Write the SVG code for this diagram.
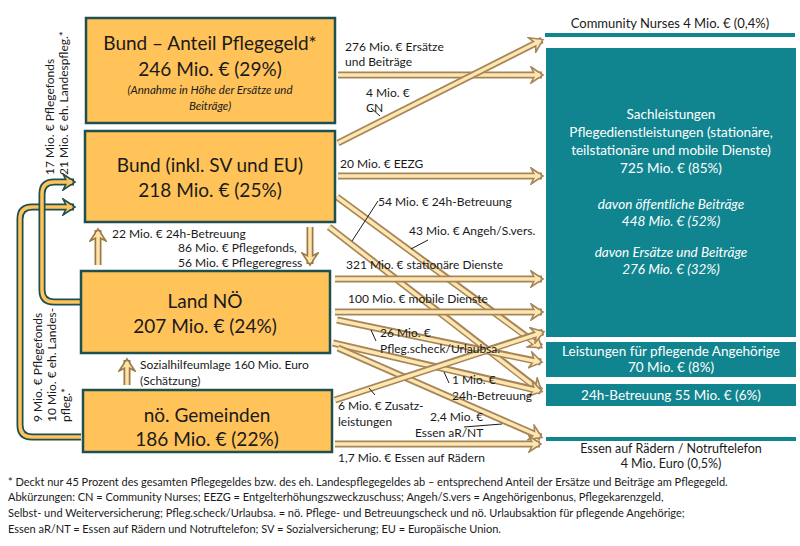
<svg xmlns="http://www.w3.org/2000/svg" width="800" height="546" viewBox="0 0 800 546">
<style>
text{font-family:Lato,"Noto Sans",sans-serif;fill:#1a1a1a}
.box{fill:#FFC35A;stroke:#1F4F4F;stroke-width:2.5}
.tb{fill:#11858F}
.big{font-size:19px;text-anchor:middle}
.lb{font-size:12px}
.w{fill:#fff;font-size:13.5px;text-anchor:middle}
.ao{fill:none;stroke:#9C7A48;stroke-width:7}
.ai{fill:none;stroke:#FFE3A8;stroke-width:3.5}
.lo{fill:none;stroke:#1F4F4F;stroke-width:7}
.li{fill:none;stroke:#FFC35A;stroke-width:3.5}
.ld{stroke:#1a1a1a;stroke-width:1;fill:none}
.fn{font-size:11px}
</style>
<defs>
<marker id="ah" markerUnits="userSpaceOnUse" markerWidth="16" markerHeight="18" refX="12" refY="9" orient="auto">
<path d="M1,1 L13,9 L1,17 L5,9 Z" fill="#FFE3A8" stroke="#9C7A48" stroke-width="1.6"/>
</marker>
<marker id="lh" markerUnits="userSpaceOnUse" markerWidth="16" markerHeight="18" refX="12" refY="9" orient="auto">
<path d="M1,1 L13,9 L1,17 L5,9 Z" fill="#FFC35A" stroke="#1F4F4F" stroke-width="1.6"/>
</marker>
</defs>

<g id="connectors">
<path class="lo" d="M81,437 H32 Q20,437 20,425 V219 Q20,207 32,207 H74" marker-end="url(#lh)"/>
<path class="li" d="M81,437 H32 Q20,437 20,425 V219 Q20,207 32,207 H72"/>
<path class="lo" d="M81,302 H54 Q42,302 42,290 V194 Q42,182 54,182 H74" marker-end="url(#lh)"/>
<path class="li" d="M81,302 H54 Q42,302 42,290 V194 Q42,182 54,182 H72"/>
<path class="ao" d="M98,265 V230" marker-end="url(#ah)"/><path class="ai" d="M98,265 V232"/>
<path class="ao" d="M310,227 V264" marker-end="url(#ah)"/><path class="ai" d="M310,227 V262"/>
<path class="ao" d="M127,385 V360" marker-end="url(#ah)"/><path class="ai" d="M127,385 V362"/>
<g opacity="0.9">
<path class="ao" d="M338,75 H542" marker-end="url(#ah)"/><path class="ai" d="M338,75 H540"/>
<path class="ao" d="M338,143 L542,40" marker-end="url(#ah)"/><path class="ai" d="M338,143 L540,41"/>
<path class="ao" d="M338,176 H542" marker-end="url(#ah)"/><path class="ai" d="M338,176 H540"/>
<path class="ao" d="M337,197 L541,347" marker-end="url(#ah)"/><path class="ai" d="M337,197 L539,346"/>
<path class="ao" d="M329,227 L541,391" marker-end="url(#ah)"/><path class="ai" d="M329,227 L539,390"/>
<path class="ao" d="M335,279 H542" marker-end="url(#ah)"/><path class="ai" d="M335,279 H540"/>
<path class="ao" d="M335,312 H542" marker-end="url(#ah)"/><path class="ai" d="M335,312 H540"/>
<path class="ao" d="M337,320 L541,362" marker-end="url(#ah)"/><path class="ai" d="M337,320 L539,362"/>
<path class="ao" d="M333,343 L541,391" marker-end="url(#ah)"/><path class="ai" d="M333,343 L539,391"/>
<path class="ao" d="M338,348 L541,437" marker-end="url(#ah)"/><path class="ai" d="M338,348 L539,436"/>
<path class="ao" d="M335,400 L543,332" marker-end="url(#ah)"/><path class="ai" d="M335,400 L541,333"/>
<path class="ao" d="M335,444 H540" marker-end="url(#ah)"/><path class="ai" d="M335,444 H538"/>
</g>
<path class="ld" d="M371,108 L380,116"/>
<path class="ld" d="M378,201 L352,241"/>
<path class="ld" d="M428,240 L411,249"/>
<path class="ld" d="M376,341 L371,330"/>
<path class="ld" d="M449,383 L444,372"/>
<path class="ld" d="M464,427 L502,424"/>
<path class="ld" d="M375,395 L369,388"/>
</g>

<g id="bund-pflegegeld">
<rect class="box" x="86" y="18" width="249" height="105"/>
<text class="big" x="210" y="50">Bund – Anteil Pflegegeld*</text>
<text class="big" x="210" y="76">246 Mio. € (29%)</text>
<text x="210" y="94" font-size="11.5" font-style="italic" text-anchor="middle">(Annahme in Höhe der Ersätze und</text>
<text x="210" y="110" font-size="11.5" font-style="italic" text-anchor="middle">Beiträge)</text>
</g>
<g id="bund">
<rect class="box" x="85" y="131" width="250" height="91"/>
<text class="big" x="210" y="172">Bund (inkl. SV und EU)</text>
<text class="big" x="210" y="197">218 Mio. € (25%)</text>
</g>
<g id="land">
<rect class="box" x="81" y="271" width="249" height="82"/>
<text class="big" x="205" y="308">Land NÖ</text>
<text class="big" x="205" y="333">207 Mio. € (24%)</text>
<text class="lb" x="140" y="369">Sozialhilfeumlage 160 Mio. Euro</text>
<text class="lb" x="140" y="385">(Schätzung)</text>
</g>
<g id="gemeinden">
<rect class="box" x="83" y="390" width="249" height="62"/>
<text class="big" x="207" y="422">nö. Gemeinden</text>
<text class="big" x="207" y="446">186 Mio. € (22%)</text>
</g>

<g id="community">
<rect class="tb" x="545" y="33" width="250" height="4"/>
<text x="670" y="28" font-size="13" text-anchor="middle">Community Nurses 4 Mio. € (0,4%)</text>
</g>
<g id="sach">
<rect class="tb" x="546" y="48" width="250" height="289"/>
<text class="w" x="671" y="119">Sachleistungen</text>
<text class="w" x="671" y="137">Pflegedienstleistungen  (stationäre,</text>
<text class="w" x="671" y="155">teilstationäre und mobile Dienste)</text>
<text class="w" x="671" y="173">725 Mio. € (85%)</text>
<text class="w" x="671" y="209" font-size="11" font-style="italic">davon öffentliche Beiträge</text>
<text class="w" x="671" y="226" font-size="11" font-style="italic">448 Mio. € (52%)</text>
<text class="w" x="671" y="257" font-size="11" font-style="italic">davon Ersätze und Beiträge</text>
<text class="w" x="671" y="274" font-size="11" font-style="italic">276 Mio. € (32%)</text>
</g>
<g id="angehoerige">
<rect class="tb" x="546" y="342" width="250" height="35"/>
<text class="w" x="671" y="356">Leistungen für pflegende Angehörige</text>
<text class="w" x="671" y="372">70 Mio. € (8%)</text>
</g>
<g id="betreuung24">
<rect class="tb" x="546" y="384" width="250" height="22"/>
<text class="w" x="671" y="400">24h-Betreuung 55 Mio. € (6%)</text>
</g>
<g id="essen">
<rect class="tb" x="546" y="437" width="250" height="4"/>
<text x="671" y="453" font-size="12.5" text-anchor="middle">Essen auf Rädern / Notruftelefon</text>
<text x="671" y="468" font-size="12.5" text-anchor="middle">4 Mio. Euro (0,5%)</text>
</g>

<g id="labels">
<text class="lb" x="345" y="51">276 Mio. € Ersätze</text>
<text class="lb" x="345" y="66">und Beiträge</text>
<text class="lb" x="366" y="97">4 Mio. €</text>
<text class="lb" x="366" y="112">CN</text>
<text class="lb" x="340" y="168">20 Mio. € EEZG</text>
<text class="lb" x="378" y="206">54 Mio. € 24h-Betreuung</text>
<text class="lb" x="409" y="235">43 Mio. € Angeh/S.vers.</text>
<text class="lb" x="346" y="269">321 Mio. € stationäre Dienste</text>
<text class="lb" x="348" y="303">100 Mio. € mobile Dienste</text>
<text class="lb" x="380" y="337">26 Mio. €</text>
<text class="lb" x="380" y="353">Pfleg.scheck/Urlaubsa.</text>
<text class="lb" x="452" y="384">1 Mio. €</text>
<text class="lb" x="452" y="400">24h-Betreuung</text>
<text class="lb" x="338" y="410">6 Mio. € Zusatz-</text>
<text class="lb" x="338" y="426">leistungen</text>
<text class="lb" x="430" y="421">2,4 Mio. €</text>
<text class="lb" x="415" y="437">Essen aR/NT</text>
<text class="lb" x="338" y="462">1,7 Mio. € Essen auf Rädern</text>
<text class="lb" x="112" y="238">22 Mio. € 24h-Betreuung</text>
<text class="lb" x="178" y="252">86 Mio. €  Pflegefonds,</text>
<text class="lb" x="178" y="267">56 Mio. € Pflegeregress</text>
<text class="lb" transform="translate(54,175) rotate(-90)">17 Mio. € Pflegefonds</text>
<text class="lb" transform="translate(68,175) rotate(-90)">21 Mio. € eh. Landespfleg.*</text>
<text class="lb" transform="translate(42,422) rotate(-90)">9 Mio.  € Pflegefonds</text>
<text class="lb" transform="translate(56,422) rotate(-90)">10 Mio. € eh. Landes-</text>
<text class="lb" transform="translate(70,422) rotate(-90)">pfleg.*</text>
</g>

<g id="footnote">
<text class="fn" x="8" y="486">* Deckt nur 45 Prozent des gesamten Pflegegeldes bzw. des eh. Landespflegegeldes ab – entsprechend Anteil der Ersätze und Beiträge am Pflegegeld.</text>
<text class="fn" x="8" y="501">Abkürzungen: CN = Community Nurses; EEZG = Entgelterhöhungszweckzuschuss; Angeh/S.vers = Angehörigenbonus, Pflegekarenzgeld,</text>
<text class="fn" x="8" y="517">Selbst- und Weiterversicherung; Pfleg.scheck/Urlaubsa. = nö. Pflege- und Betreuungscheck und nö. Urlaubsaktion für pflegende Angehörige;</text>
<text class="fn" x="8" y="533">Essen aR/NT = Essen auf Rädern und Notruftelefon; SV = Sozialversicherung; EU = Europäische Union.</text>
</g>
</svg>
